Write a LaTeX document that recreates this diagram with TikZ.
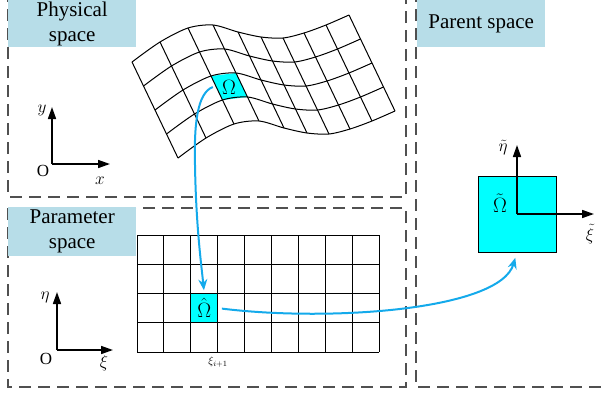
\documentclass[tikz,border=0pt]{standalone}
\usepackage{fontspec}
\setmainfont{Liberation Serif}
\usetikzlibrary{arrows.meta,calc}
\definecolor{labelblue}{HTML}{B7DDE8}
\definecolor{arrowblue}{RGB}{20,170,235}
\definecolor{dashgray}{HTML}{505050}
\definecolor{cellcyan}{RGB}{0,255,255}
\begin{document}
\begin{tikzpicture}[x=1pt,y=-1pt,
  spacebox/.style={draw=dashgray, line width=1.2pt, dash pattern=on 12pt off 7pt},
  spacelabel/.style={fill=labelblue, draw=none, inner sep=0pt, minimum width=128pt, align=center, font=\fontsize{21}{25}\selectfont},
  axis/.style={line width=1.6pt, -{Triangle[length=12pt,width=8pt]}},
  axlabel/.style={font=\fontsize{17}{17}\selectfont, inner sep=0pt},
  gridline/.style={line width=1pt},
  maparrow/.style={draw=arrowblue, line width=2pt, -{Stealth[length=11pt,width=9pt]}},
  cellfont/.style={font=\fontsize{20}{20}\selectfont},
]
\useasboundingbox (0,0) rectangle (606,394);
\clip (0,0) rectangle (606,394);

% space frames
\draw[spacebox] (8,-10) rectangle (406,197);
\draw[spacebox] (8,208) rectangle (406,387);
\draw[spacebox] (416,-10) rectangle (630,387);

% labels
\node[spacelabel, minimum height=47pt, anchor=north west] (physlabel) at (8,0) {Physical\\space};
\node[spacelabel, minimum height=49pt, anchor=north west] (paramlabel) at (8,207) {Parameter\\space};
\node[spacelabel, minimum height=47pt, anchor=north west] (parentlabel) at (417,0) {Parent space};

% ---------- physical space ----------
\fill[cellcyan] (211,76) -- (236,73) -- (247.5,97) -- (222.5,100) -- cycle;
\foreach \v in {0,...,4}{
  \draw[gridline, shift={(\v*11.5,\v*24)}] plot[smooth] coordinates
    {(132,62) (160,42) (188,28) (213,25) (238,32) (261,37) (283,38) (304,33) (326,25) (349,15)};
}
\foreach \px/\py in {132/62,160/42,188/28,213/25,238/32,261/37,283/38,304/33,326/25,349/15}{
  \draw[gridline] (\px,\py) -- ++(46,96);
}
\node[cellfont, minimum width=32pt, inner sep=0pt] (om) at (229,87) {$\Omega$};

\coordinate (po) at (52,164);
\coordinate (py) at (52,107);
\coordinate (px) at (110,164);
\draw[axis] (po) -- (py);
\draw[axis] (po) -- (px);
\node[axlabel] (ply) at (42,110) {$y$};
\node[axlabel] (plx) at (100,181) {$x$};
\node[axlabel] (plo) at (43,171) {O};

% ---------- parameter space ----------
\fill[cellcyan] (190.8,293.5) rectangle (217.7,322.75);
\foreach \i in {0,...,9}{
  \draw[gridline] (137+\i*26.9,235) -- (137+\i*26.9,352);
}
\foreach \j in {0,...,4}{
  \draw[gridline] (137,235+\j*29.25) -- (379.1,235+\j*29.25);
}
\node[cellfont, inner sep=0pt, minimum width=26.9pt, minimum height=29.25pt] (omhat) at (204.25,308.1) {$\hat{\Omega}$};
\node[font=\fontsize{11}{11}\selectfont, inner sep=0pt] (xilab) at (218,362) {$\xi_{i+1}$};

\coordinate (qo) at (57,350);
\coordinate (qy) at (57,292);
\coordinate (qx) at (113,350);
\draw[axis] (qo) -- (qy);
\draw[axis] (qo) -- (qx);
\node[axlabel] (qly) at (45,297) {$\eta$};
\node[axlabel] (qlx) at (104,363) {$\xi$};
\node[axlabel] (qlo) at (46,359) {O};

% ---------- parent space ----------
\draw[fill=cellcyan, line width=0.8pt] (478,176) rectangle (556,252);
\coordinate (sqs) at (517,252);
\coordinate (ro) at (517,214);
\coordinate (ry) at (517,145);
\coordinate (rx) at (594,214);
\draw[axis] (ro) -- (ry);
\draw[axis] (ro) -- (rx);
\node[axlabel] (rly) at (503,148) {$\tilde{\eta}$};
\node[axlabel] (rlx) at (590,234) {$\tilde{\xi}$};
\node[cellfont, inner sep=0pt] (omtilde) at (500,203) {$\tilde{\Omega}$};

% ---------- mapping arrows ----------
\draw[maparrow, shorten >=3pt] (om.west) .. controls (197,93) and (194,125) .. (195,165)
   .. controls (196,225) and (201,262) .. (omhat.north);
\draw[maparrow, shorten <=4pt, shorten >=6pt] (omhat.east) .. controls (330,322) and (500,310) .. (sqs);
\end{tikzpicture}
\end{document}
